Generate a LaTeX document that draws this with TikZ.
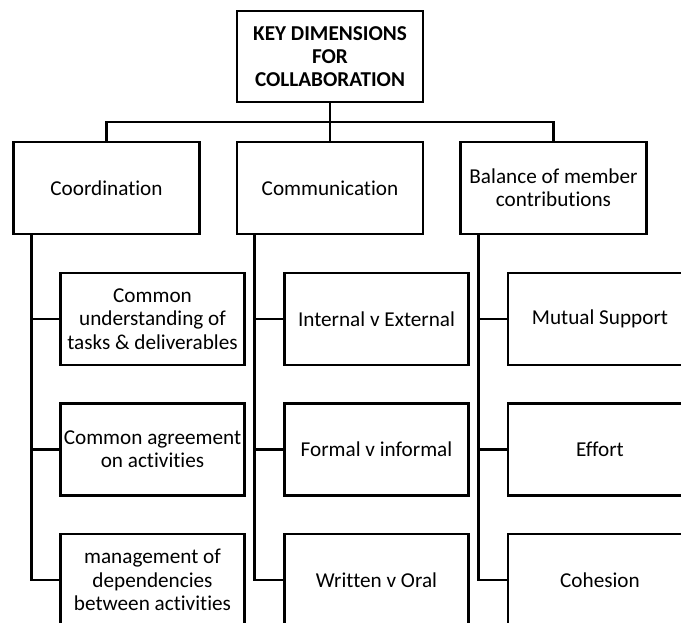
\documentclass[tikz,border=0pt]{standalone}
\usepackage{fontspec}
\setmainfont{Carlito}[Ligatures=NoCommon]
\begin{document}
\begin{tikzpicture}[x=1pt,y=-1pt,
  box/.style={draw, line width=2.6pt, minimum width=186pt, minimum height=92pt,
    inner sep=0pt, align=center, font=\fontsize{21.2}{23.3}\selectfont},
  subbox/.style={box, minimum width=184pt},
  link/.style={line width=2.6pt}]
\useasboundingbox (0,0) rectangle (681,623);
\clip (0,0) rectangle (681,623);

% root
\node[box, minimum width=186pt, minimum height=91pt,
  font=\bfseries\fontsize{21.2}{23.3}\selectfont] (top) at (330,56.5)
  {KEY DIMENSIONS\\FOR\\COLLABORATION};

% three dimensions
\node[box] (coord) at (106.5,188) {Coordination};
\node[box] (comm)  at (330,188) {Communication};
\node[box] (bal)   at (553.5,188) {Balance of member\\contributions};

% coordination items
\node[subbox] (c1) at (152.5,319) {Common\\understanding of\\tasks \& deliverables};
\node[subbox] (c2) at (152.5,449.5) {Common agreement\\on activities};
\node[subbox] (c3) at (152.5,580) {management of\\dependencies\\between activities};

% communication items
\node[subbox] (m1) at (376.5,319) {Internal v External};
\node[subbox] (m2) at (376.5,449.5) {Formal v informal};
\node[subbox] (m3) at (376.5,580) {Written v Oral};

% balance items
\node[subbox] (b1) at (600,319) {Mutual Support};
\node[subbox] (b2) at (600,449.5) {Effort};
\node[subbox] (b3) at (600,580) {Cohesion};

% bus from root to the three dimensions
\coordinate (bus) at (330,122);
\draw[link] (top.south) -- (comm.north);
\draw[link] (coord.north) |- (bus) -| (bal.north);

% spines down to each item
\foreach \p/\a/\b/\c in {coord/c1/c2/c3, comm/m1/m2/m3, bal/b1/b2/b3}{
  \draw[link] ([xshift=19pt]\p.south west) coordinate (s-\p) |- (\c.west);
  \draw[link] (s-\p |- \a.west) -- (\a.west);
  \draw[link] (s-\p |- \b.west) -- (\b.west);
}
\end{tikzpicture}
\end{document}
